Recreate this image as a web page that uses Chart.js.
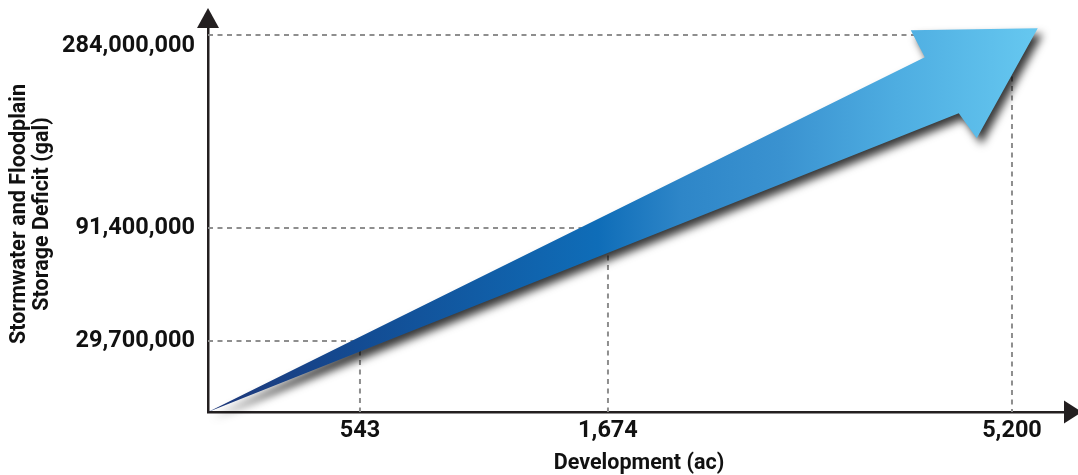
<!DOCTYPE html>
<html>
<head>
<meta charset="utf-8">
<title>Stormwater and Floodplain Storage Deficit vs Development</title>
<script src="https://cdn.jsdelivr.net/npm/chart.js@4.4.1/dist/chart.umd.min.js"></script>
<style>
  html, body { margin: 0; padding: 0; background: #ffffff; }
  canvas { display: block; }
</style>
</head>
<body>
<canvas id="chart" width="1078" height="475"></canvas>
<script>
// Development area (acres) and the matching storage deficit (gallons)
const developmentAc = [543, 1674, 5200];
const deficitGal = [29700000, 91400000, 284000000];
const xTickLabels = ['543', '1,674', '5,200'];
const yTickLabels = ['29,700,000', '91,400,000', '284,000,000'];

// Schematic axes: each stop value sits at a fixed fraction of its axis
const xStopPositions = [0, 0.1763, 0.4640, 0.9327];
const yStopPositions = [0, 0.1793, 0.4646, 0.9520];
const axisStops = {
  x: [0, ...developmentAc].map((v, i) => ({ value: v, at: xStopPositions[i] })),
  y: [0, ...deficitGal].map((v, i) => ({ value: v, at: yStopPositions[i] }))
};

// Linear scale that maps values piecewise between the stops above
class StopScale extends Chart.LinearScale {
  valueToDecimal(value) {
    const s = axisStops[this.id];
    let i = 1;
    while (i < s.length - 1 && value > s[i].value) i++;
    const a = s[i - 1], b = s[i];
    return a.at + (value - a.value) / (b.value - a.value) * (b.at - a.at);
  }
  decimalToValue(dec) {
    const s = axisStops[this.id];
    let i = 1;
    while (i < s.length - 1 && dec > s[i].at) i++;
    const a = s[i - 1], b = s[i];
    return a.value + (dec - a.at) / (b.at - a.at) * (b.value - a.value);
  }
  getPixelForValue(value) {
    if (value === null || value === undefined || Number.isNaN(+value)) return NaN;
    return this.getPixelForDecimal(this.valueToDecimal(+value));
  }
  getValueForPixel(pixel) {
    return this.decimalToValue(this.getDecimalForPixel(pixel));
  }
}
StopScale.id = 'stops';
StopScale.defaults = {};
Chart.register(StopScale);

const tickFont = { family: "Roboto, 'Liberation Sans', sans-serif", size: 23.5, weight: 'bold', lineHeight: 0.98 };
const titleFont = { family: "Roboto, 'Liberation Sans', sans-serif", size: 21.5, weight: 'bold', lineHeight: 1.07 };
const inkColor = '#111111';
const axisColor = '#231f20';

// Dashed guide from each axis to its point
const guideSets = developmentAc.map((x, i) => ({
  label: 'guide ' + xTickLabels[i],
  data: [{ x: 0, y: deficitGal[i] }, { x: x, y: deficitGal[i] }, { x: x, y: 0 }],
  borderColor: '#8e8e8e',
  borderWidth: 2,
  borderDash: [5, 4.5],
  pointRadius: 0,
  fill: false,
  tension: 0,
  showLine: true
}));

// The trend itself, starting at the origin; painted as a big arrow
const trendSet = {
  label: 'Storage deficit',
  data: [{ x: 0, y: 0 }, ...developmentAc.map((x, i) => ({ x: x, y: deficitGal[i] }))],
  showLine: false,
  pointRadius: 0
};

// Arrow outline: offsets along / across the trend direction, relative to the last point
const arrowShape = {
  upperNotch: [-88.4, 16.9],
  upperBarb: [-89.6, 47.3],
  tip: [26.2, -4.8],
  lowerBarb: [-75.7, -78.4],
  lowerNotch: [-81.4, -48.2]
};
const arrowStops = [
  [0, '#1e3779'], [0.18, '#134b92'], [0.47, '#0f6db8'], [0.57, '#2e86c8'],
  [0.69, '#3a92d0'], [0.83, '#4eade1'], [1, '#66c8f0']
];

const trendArrow = {
  id: 'trendArrow',
  afterDatasetsDraw(chart) {
    const idx = chart.data.datasets.indexOf(trendSet);
    const pts = chart.getDatasetMeta(idx).data;
    const O = pts[0], P = pts[pts.length - 1];
    const dx = P.x - O.x, dy = P.y - O.y, len = Math.hypot(dx, dy);
    const ux = dx / len, uy = dy / len;
    const nx = uy, ny = -ux;
    const at = ([a, p]) => [P.x + a * ux + p * nx, P.y + a * uy + p * ny];
    const poly = [[O.x, O.y], at(arrowShape.upperNotch), at(arrowShape.upperBarb),
      at(arrowShape.tip), at(arrowShape.lowerBarb), at(arrowShape.lowerNotch)];
    const tipX = at(arrowShape.tip)[0];
    const { ctx } = chart;
    ctx.save();
    const grad = ctx.createLinearGradient(O.x, 0, tipX, 0);
    arrowStops.forEach(([o, c]) => grad.addColorStop(o, c));
    ctx.beginPath();
    poly.forEach(([x, y], i) => (i ? ctx.lineTo(x, y) : ctx.moveTo(x, y)));
    ctx.closePath();
    ctx.shadowColor = 'rgba(0,0,0,0.78)';
    ctx.shadowBlur = 9;
    ctx.shadowOffsetX = 5;
    ctx.shadowOffsetY = 6;
    ctx.fillStyle = grad;
    ctx.fill();
    ctx.restore();
  }
};

// Arrowheads on the ends of both axes
const axisArrows = {
  id: 'axisArrows',
  afterDraw(chart) {
    const { ctx, chartArea: { left, top, right, bottom } } = chart;
    ctx.save();
    ctx.fillStyle = axisColor;
    ctx.beginPath();
    ctx.moveTo(left - 11, top + 12);
    ctx.lineTo(left + 11, top + 12);
    ctx.lineTo(left, top - 8);
    ctx.closePath();
    ctx.fill();
    ctx.beginPath();
    ctx.moveTo(right - 6, bottom - 11.5);
    ctx.lineTo(right - 6, bottom + 11.5);
    ctx.lineTo(right + 12, bottom);
    ctx.closePath();
    ctx.fill();
    ctx.restore();
  }
};

new Chart(document.getElementById('chart'), {
  type: 'scatter',
  data: { datasets: [...guideSets, trendSet] },
  plugins: [trendArrow, axisArrows],
  options: {
    responsive: false,
    devicePixelRatio: 1,
    animation: false,
    events: [],
    layout: { padding: { top: 16, right: 8, bottom: 0, left: 0 } },
    plugins: { legend: { display: false }, tooltip: { enabled: false } },
    scales: {
      x: {
        type: 'stops',
        position: 'bottom',
        min: 0,
        max: 5600,
        afterBuildTicks: s => { s.ticks = developmentAc.map(value => ({ value })); },
        afterFit: s => { s.height = 63; s.paddingLeft = 0; s.paddingRight = 0; },
        grid: { display: true, color: 'rgba(0,0,0,0)', drawTicks: false },
        border: { display: true, color: axisColor, width: 2.5 },
        ticks: {
          autoSkip: false, maxRotation: 0, padding: 5, color: inkColor,
          font: { ...tickFont, lineHeight: 1.17 },
          callback: (v, i) => xTickLabels[i]
        },
        title: { display: true, text: 'Development (ac)', color: inkColor, font: titleFont, padding: { top: 0, bottom: 0 } }
      },
      y: {
        type: 'stops',
        position: 'left',
        min: 0,
        max: 300000000,
        afterBuildTicks: s => { s.ticks = deficitGal.map(value => ({ value })); },
        afterFit: s => { s.width = 208; s.paddingTop = 0; s.paddingBottom = 0; },
        grid: { display: true, color: 'rgba(0,0,0,0)', drawTicks: false },
        border: { display: true, color: axisColor, width: 2.5 },
        ticks: {
          autoSkip: false, padding: 13, color: inkColor, font: tickFont,
          // the top label sits just under its guide line, clear of the axis arrow
          callback: (v, i, t) => (i === t.length - 1 ? ['', yTickLabels[i]] : yTickLabels[i])
        },
        title: {
          display: true,
          text: ['Stormwater and Floodplain', 'Storage Deficit (gal)'],
          color: inkColor, font: titleFont, padding: { top: 8.5, bottom: 0 }
        }
      }
    }
  }
});
</script>
</body>
</html>
